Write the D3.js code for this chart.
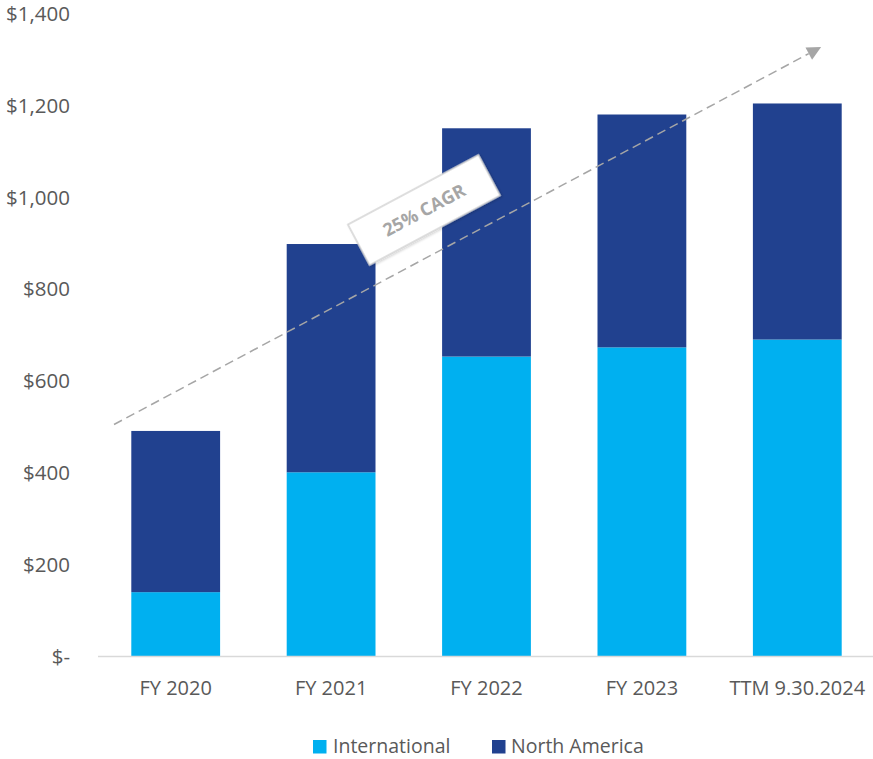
<!DOCTYPE html>
<html>
<head>
<meta charset="utf-8">
<script src="https://cdn.jsdelivr.net/npm/d3@7"></script>
<style>
  html, body { margin: 0; padding: 0; background: #fff; }
  svg { display: block; font-family: "Open Sans", "Noto Sans", sans-serif; }
</style>
</head>
<body>
<svg id="chart" width="873" height="759"></svg>
<script>
// Revenue by region, $ millions
const categories = ["FY 2020", "FY 2021", "FY 2022", "FY 2023", "TTM 9.30.2024"];
const international = [139, 400, 652, 672, 689];
const northAmerica = [351, 497, 497, 507, 514];
const seriesNames = ["International", "North America"];
const seriesColors = ["#00B0F0", "#21418F"];
const yTicks = [0, 200, 400, 600, 800, 1000, 1200, 1400];
const cagrLabel = "25% CAGR";
// trend arrow endpoints expressed in value units
const trendStart = 504;
const trendEnd = 1327;

const svg = d3.select("#chart");
const W = 873, H = 759;
const plot = { left: 98, right: 875, top: 13, bottom: 656 };

const x = d3.scaleBand()
  .domain(categories)
  .range([plot.left, plot.right])
  .paddingInner(0.75 / 1.75)
  .paddingOuter(0.75 / 3.5);

const y = d3.scaleLinear()
  .domain([0, 1400])
  .range([plot.bottom, plot.top]);

// stacked layout
const rows = categories.map((c, i) => ({
  cat: c,
  "International": international[i],
  "North America": northAmerica[i]
}));
const stack = d3.stack().keys(seriesNames);
const layers = stack(rows);

// y axis labels
const fmt = v => v === 0 ? "$-" : "$" + d3.format(",")(v);
const yAxis = d3.axisLeft(y).tickValues(yTicks).tickFormat(fmt).tickSize(0).tickPadding(0);
const gy = svg.append("g").attr("transform", "translate(70,0)").call(yAxis);
gy.select(".domain").remove();
gy.selectAll("text")
  .attr("fill", "#595959")
  .style("font-size", "20.5px")
  .style("font-family", "\"Open Sans\", sans-serif")
  .attr("dy", "0.36em");

// bars
svg.append("g")
  .selectAll("g")
  .data(layers)
  .join("g")
  .attr("fill", (d, i) => seriesColors[i])
  .selectAll("rect")
  .data(d => d)
  .join("rect")
  .attr("x", d => x(d.data.cat))
  .attr("width", x.bandwidth())
  .attr("y", d => y(d[1]))
  .attr("height", d => y(d[0]) - y(d[1]));

// baseline
svg.append("line")
  .attr("x1", plot.left).attr("x2", W)
  .attr("y1", plot.bottom + 0.5).attr("y2", plot.bottom + 0.5)
  .attr("stroke", "#d9d9d9").attr("stroke-width", 1.5);

// x axis labels
const xAxis = d3.axisBottom(x).tickSize(0).tickPadding(0);
const gx = svg.append("g").attr("transform", `translate(0,${plot.bottom})`).call(xAxis);
gx.select(".domain").remove();
gx.selectAll("text")
  .attr("fill", "#595959")
  .attr("y", 39)
  .attr("dy", 0)
  .style("font-size", "20px")
  .style("font-family", "\"Open Sans\", sans-serif");

// CAGR trend arrow
const defs = svg.append("defs");
defs.append("marker")
  .attr("id", "arrowhead")
  .attr("viewBox", "0 0 10 10")
  .attr("refX", 0).attr("refY", 5)
  .attr("markerWidth", 15).attr("markerHeight", 14)
  .attr("markerUnits", "userSpaceOnUse")
  .attr("orient", "auto")
  .append("path")
  .attr("d", "M0,0 L10,5 L0,10 Z")
  .attr("fill", "#a6a6a6");

const filt = defs.append("filter").attr("id", "shadow")
  .attr("x", "-20%").attr("y", "-40%").attr("width", "140%").attr("height", "180%");
filt.append("feDropShadow")
  .attr("dx", 1).attr("dy", 1.5).attr("stdDeviation", 1.2)
  .attr("flood-color", "#000").attr("flood-opacity", 0.18);

const ax1 = plot.left + 16, ay1 = y(trendStart);
const ax2 = plot.left + 724, ay2 = y(trendEnd);
const ang = Math.atan2(ay2 - ay1, ax2 - ax1);
svg.append("line")
  .attr("x1", ax1).attr("y1", ay1)
  .attr("x2", ax2 - 15 * Math.cos(ang)).attr("y2", ay2 - 15 * Math.sin(ang))
  .attr("stroke", "#a6a6a6")
  .attr("stroke-width", 1.5)
  .attr("stroke-dasharray", "9,5")
  .attr("marker-end", "url(#arrowhead)");

// rotated label box above the arrow
const deg = ang * 180 / Math.PI;
const lbl = svg.append("g")
  .attr("transform", `translate(424,210) rotate(${deg})`);
lbl.append("rect")
  .attr("x", -74).attr("y", -23)
  .attr("width", 148).attr("height", 46)
  .attr("fill", "#fff")
  .attr("stroke", "#d4d4d4")
  .attr("stroke-width", 1.5)
  .attr("filter", "url(#shadow)");
lbl.append("text")
  .attr("text-anchor", "middle")
  .attr("dy", "0.36em")
  .attr("fill", "#a6a6a6")
  .style("font-size", "18px")
  .style("font-weight", "bold")
  .text(cagrLabel);

// legend
const legendItems = [{ x: 313, tx: 333 }, { x: 492, tx: 511 }];
const lg = svg.append("g");
seriesNames.forEach((name, i) => {
  lg.append("rect")
    .attr("x", legendItems[i].x).attr("y", 740)
    .attr("width", 13.5).attr("height", 13.5)
    .attr("fill", seriesColors[i]);
  lg.append("text")
    .attr("x", legendItems[i].tx).attr("y", 753)
    .attr("fill", "#595959")
    .style("font-size", "19.5px")
    .text(name);
});
</script>
</body>
</html>
